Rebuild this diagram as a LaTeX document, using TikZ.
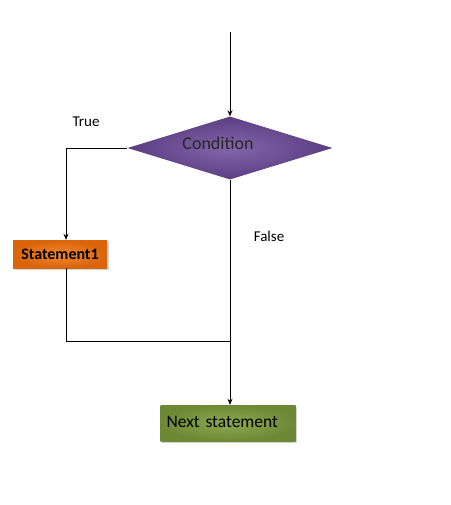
\documentclass[tikz,border=0pt]{standalone}
\usepackage{fontspec}
\setmainfont{Carlito}
\usetikzlibrary{shapes.geometric,shadows,arrows.meta}

\definecolor{condin}{HTML}{8266AA}
\definecolor{condout}{HTML}{5A3E80}
\definecolor{stmtin}{HTML}{F2872E}
\definecolor{stmtout}{HTML}{D9640A}
\definecolor{nextin}{HTML}{8CA850}
\definecolor{nextout}{HTML}{6E8936}

\tikzset{
  decision/.style={diamond,aspect=3.25,minimum width=205pt,minimum height=63pt,inner sep=0pt,
    inner color=condin,outer color=condout},
  stmtbox/.style={rectangle,minimum width=94pt,minimum height=28pt,inner sep=0pt,
    inner color=stmtin,outer color=stmtout,
    drop shadow={shadow xshift=1.5pt,shadow yshift=-1.5pt,opacity=.35},font=\bfseries\fontsize{16}{18}\selectfont},
  nextbox/.style={rectangle,minimum width=135pt,minimum height=36pt,inner xsep=6pt,inner ysep=0pt,
    text width=123pt,align=left,inner color=nextin,outer color=nextout,
    drop shadow={shadow xshift=1.5pt,shadow yshift=-1.5pt,opacity=.35},font=\fontsize{17.5}{20}\selectfont},
  txt/.style={font=\fontsize{15}{17}\selectfont},
  flow/.style={line width=0.8pt},
  arr/.style={flow,-{Stealth[length=6pt,width=5pt]}}
}

\begin{document}
\begin{tikzpicture}[x=1pt,y=-1pt]
		\useasboundingbox (0,0) rectangle (450,505);
		\coordinate (start) at (230,32);
		\coordinate (lft) at (66,148);
		\coordinate (join) at (230,341);
		\node[decision] (cond) at (230,148) {};
		\node[font=\fontsize{18}{21}\selectfont,text=black!85] (condtxt) at (218,143) {Condition};
		\node[stmtbox] (stmt) at (60,254) {Statement1};
		\node[nextbox] (next) at (228,423) {\raisebox{3pt}{Next statement}};
		\node[txt] (true) at (86,122) {True};
		\node[txt] (false) at (269,236) {False};
		\draw[arr] (start) -- (cond.north);
		\draw[arr] (cond.west) -- (lft) -- (lft |- stmt.north);
		\draw[flow] (lft |- stmt.south) |- (join);
		\draw[arr] (cond.south) -- (cond.south |- next.north);
		\end{tikzpicture}
\end{document}
